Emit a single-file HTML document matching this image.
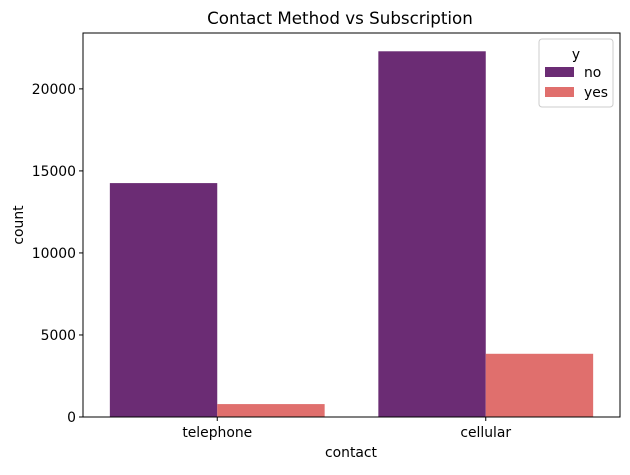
<!DOCTYPE html>
<html><head><meta charset="utf-8"><style>
body{margin:0;background:#fff;}
svg text{font-family:"DejaVu Sans","Liberation Sans",sans-serif;fill:#000;}
</style></head><body>
<svg width="630" height="470" xmlns="http://www.w3.org/2000/svg">
<rect width="630" height="470" fill="#fff"/>
<text x="340" y="24" font-size="16.7" text-anchor="middle">Contact Method vs Subscription</text>
<g id="bars"></g>
<g id="axes"></g>
<rect x="83" y="33" width="537" height="384" fill="none" stroke="#000" stroke-width="1"/>
<text x="351" y="457" font-size="13.9" text-anchor="middle">contact</text>
<text transform="translate(23,225) rotate(-90)" font-size="13.9" text-anchor="middle">count</text>
<g>
<rect x="539" y="39" width="74" height="68" rx="3" fill="#fff" fill-opacity="0.8" stroke="#ccc"/>
<text x="576" y="59" font-size="13.9" text-anchor="middle">y</text>
<rect x="545" y="67" width="29" height="10" fill="#6b2c74"/>
<text x="584" y="77" font-size="13.9">no</text>
<rect x="545" y="87" width="29" height="10" fill="#e06f6d"/>
<text x="584" y="97" font-size="13.9">yes</text>
</g>
</svg>
<script>
const categories=["telephone","cellular"];
const noValues=[14257,22291];
const yesValues=[787,3853];
const yTicks=[0,5000,10000,15000,20000];
const NS="http://www.w3.org/2000/svg";
const L=83,R=620,T=33,B=417,ymax=23405.6;
const y=v=>B-(v/ymax)*(B-T);
const band=(R-L)/categories.length;
const xc=i=>L+band*(i+0.5);
const bw=band*0.8/2;
const bars=document.getElementById('bars'),axes=document.getElementById('axes');
function mk(t,a){const e=document.createElementNS(NS,t);for(const k in a)e.setAttribute(k,a[k]);return e;}
categories.forEach((c,i)=>{
 [[noValues,"#6b2c74",-1,"no"],[yesValues,"#e06f6d",0,"yes"]].forEach(([arr,col,off,s])=>{
  const r=mk('rect',{x:xc(i)+off*bw,y:y(arr[i]),width:bw,height:B-y(arr[i]),fill:col});
  
  
  bars.appendChild(r);
 });
 const tk=mk('line',{x1:xc(i),x2:xc(i),y1:B,y2:B+4,stroke:'#000'});
 
 
 axes.appendChild(tk);
 const t=mk('text',{x:xc(i),y:B+20,'font-size':13.9,'text-anchor':'middle'});
 t.textContent=c;
 
 
 axes.appendChild(t);
});
yTicks.forEach(v=>{
 const tk=mk('line',{x1:L-4,x2:L,y1:y(v),y2:y(v),stroke:'#000'});
 
 
 axes.appendChild(tk);
 const t=mk('text',{x:L-7,y:y(v)+5,'font-size':13.9,'text-anchor':'end'});
 t.textContent=v;
 
 
 axes.appendChild(t);
});
</script>
</body></html>
